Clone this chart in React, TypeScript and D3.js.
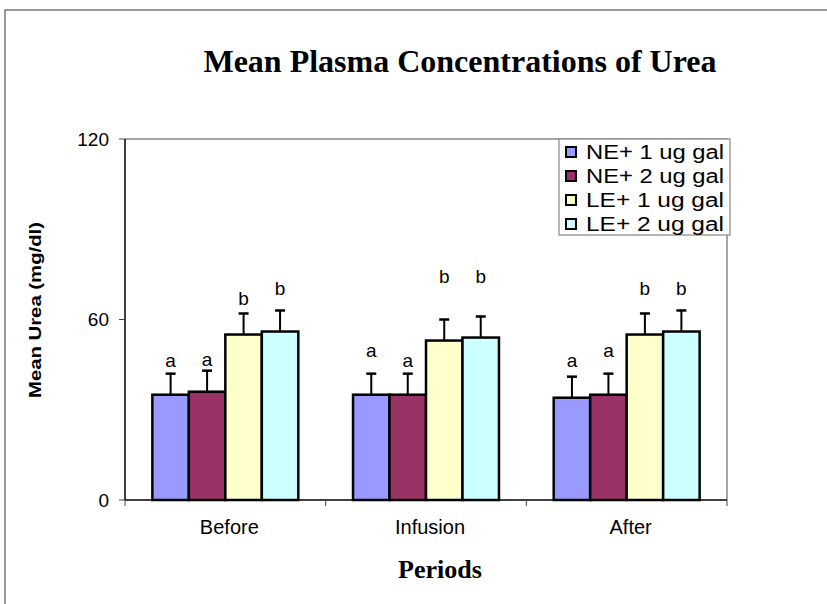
import * as d3 from "d3";
import { useEffect, useRef } from "react";

const categories = ["Before", "Infusion", "After"];
const seriesNames = ["NE+ 1 ug gal", "NE+ 2 ug gal", "LE+ 1 ug gal", "LE+ 2 ug gal"];
const colors = ["#9999FF", "#993366", "#FFFFCC", "#CCFFFF"];

// mean urea (mg/dl) per series, one value per period
const ne1Means = [35, 35, 34];
const ne2Means = [36, 35, 35];
const le1Means = [55, 53, 55];
const le2Means = [56, 54, 56];

// error shown above each bar
const ne1Err = [7, 7, 7];
const ne2Err = [7, 7, 7];
const le1Err = [7, 7, 7];
const le2Err = [7, 7, 7];

// significance letters and where their baseline sits (in mg/dl)
const letters = ["a", "a", "b", "b"];
const ne1LabelY = [44.2, 47.7, 44.3];
const ne2LabelY = [44.5, 44.1, 47.4];
const le1LabelY = [64.8, 72, 68.2];
const le2LabelY = [68, 72, 68.2];

const yTicks = [0, 60, 120];

const means = [ne1Means, ne2Means, le1Means, le2Means];
const errs = [ne1Err, ne2Err, le1Err, le2Err];
const labelYs = [ne1LabelY, ne2LabelY, le1LabelY, le2LabelY];

const SANS = "Arial, 'Liberation Sans', sans-serif";
const SERIF = "'Times New Roman', 'Liberation Serif', serif";

function UreaChart() {
  const ref = useRef<SVGSVGElement>(null);

  useEffect(() => {
    const svg = d3.select(ref.current!);
    svg.selectAll("*").remove();

    const left = 125, right = 727, top = 139, bottom = 500;

    const x0 = d3.scaleBand().domain(categories).range([left, right]);
    // excel style: 4 bars and a gap of 1.5 bar widths in each category
    const bw = x0.bandwidth() / 5.5;
    const x1 = d3.scaleBand().domain(seriesNames)
      .range([bw * 0.75, bw * 4.75]);
    const xBar = (ci: number, si: number) => x0(categories[ci])! + x1(seriesNames[si])!;

    const y = d3.scaleLinear().domain([0, 120]).range([bottom, top]);

    // outer frame
    svg.append("path")
      .attr("d", "M5,604 L5,10 L827,10")
      .attr("fill", "none")
      .attr("stroke", "#777")
      .attr("stroke-width", 1.5);

    // plot area border (gray top & right)
    svg.append("path")
      .attr("d", `M${left},${top} L${right},${top} L${right},${bottom}`)
      .attr("fill", "none")
      .attr("stroke", "#888")
      .attr("stroke-width", 1.5);

    // bars
    const g = svg.append("g");
    seriesNames.forEach((s, si) => {
      categories.forEach((c, ci) => {
        const v = means[si][ci];
        const e = errs[si][ci];
        const bx = xBar(ci, si);
        const cx = bx + bw / 2;
        g.append("line")
          .attr("x1", cx).attr("x2", cx)
          .attr("y1", y(v)).attr("y2", y(v + e))
          .attr("stroke", "#000").attr("stroke-width", 2);
        g.append("line")
          .attr("x1", cx - 5).attr("x2", cx + 5)
          .attr("y1", y(v + e)).attr("y2", y(v + e))
          .attr("stroke", "#000").attr("stroke-width", 2.5);
        g.append("rect")
          .attr("x", bx).attr("y", y(v))
          .attr("width", bw).attr("height", y(0) - y(v))
          .attr("fill", colors[si])
          .attr("stroke", "#000").attr("stroke-width", 2.5);
        g.append("text")
          .attr("x", cx).attr("y", y(labelYs[si][ci]))
          .attr("text-anchor", "middle")
          .attr("font-family", SANS)
          .attr("font-size", 19)
          .text(letters[si]);
      });
    });

    // y axis
    svg.append("line")
      .attr("x1", left).attr("x2", left).attr("y1", top).attr("y2", bottom)
      .attr("stroke", "#000").attr("stroke-width", 1.5);
    const yAxis = svg.append("g");
    yTicks.forEach(t => {
      yAxis.append("line")
        .attr("x1", left - 6).attr("x2", left).attr("y1", y(t)).attr("y2", y(t))
        .attr("stroke", "#444").attr("stroke-width", 1);
      yAxis.append("text")
        .attr("x", 109).attr("y", y(t)).attr("dy", "0.36em")
        .attr("text-anchor", "end")
        .attr("font-family", SANS)
        .attr("font-size", 19)
        .text(t);
    });

    // x axis
    svg.append("line")
      .attr("x1", left).attr("x2", right).attr("y1", bottom).attr("y2", bottom)
      .attr("stroke", "#000").attr("stroke-width", 1.5);
    [...categories.map(c => x0(c)!), right].forEach(px => {
      svg.append("line")
        .attr("x1", px).attr("x2", px).attr("y1", bottom).attr("y2", bottom + 6)
        .attr("stroke", "#444").attr("stroke-width", 1);
    });
    categories.forEach(c => {
      svg.append("text")
        .attr("x", x0(c)! + x0.bandwidth() / 2 + 4).attr("y", 534)
        .attr("text-anchor", "middle")
        .attr("font-family", SANS)
        .attr("font-size", 20)
        .text(c);
    });

    // titles
    svg.append("text")
      .attr("x", 460).attr("y", 72)
      .attr("text-anchor", "middle")
      .attr("font-family", SERIF)
      .attr("font-weight", "bold")
      .attr("font-size", 32)
      .text("Mean Plasma Concentrations of Urea");

    svg.append("text")
      .attr("x", 440).attr("y", 578)
      .attr("text-anchor", "middle")
      .attr("font-family", SERIF)
      .attr("font-weight", "bold")
      .attr("font-size", 26)
      .text("Periods");

    svg.append("text")
      .attr("transform", `translate(41,${(222 + 398) / 2}) rotate(-90)`)
      .attr("text-anchor", "middle")
      .attr("font-family", SANS)
      .attr("font-weight", "bold")
      .attr("font-size", 17)
      .attr("textLength", 176)
      .attr("lengthAdjust", "spacingAndGlyphs")
      .text("Mean Urea (mg/dl)");

    // legend
    const lg = svg.append("g");
    lg.append("rect")
      .attr("x", 559).attr("y", 139).attr("width", 171).attr("height", 96)
      .attr("fill", "#fff").attr("stroke", "#888").attr("stroke-width", 1.2);
    seriesNames.forEach((s, i) => {
      const cy = 152 + i * 24;
      lg.append("rect")
        .attr("x", 566).attr("y", cy - 5).attr("width", 10).attr("height", 10)
        .attr("fill", colors[i]).attr("stroke", "#000").attr("stroke-width", 2);
      lg.append("text")
        .attr("x", 586).attr("y", cy).attr("dy", "0.36em")
        .attr("font-family", SANS)
        .attr("font-size", 20)
        .attr("textLength", 138)
        .attr("lengthAdjust", "spacingAndGlyphs")
        .text(s);
    });
  }, []);

  return (
    <svg ref={ref} width={827} height={604}
      style={{ position: "absolute", left: 0, top: 0, background: "#fff" }} />
  );
}

export default function App() {
  return <UreaChart />;
}
